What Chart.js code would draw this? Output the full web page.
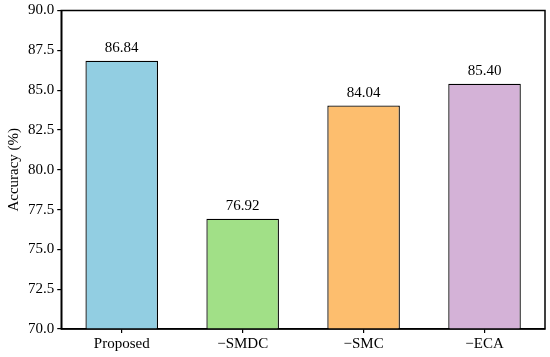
<!DOCTYPE html>
<html>
<head>
<meta charset="utf-8">
<script src="https://cdn.jsdelivr.net/npm/chart.js@4/dist/chart.umd.min.js"></script>
<style>
  html, body { margin: 0; padding: 0; background: #fff; }
  #wrap { width: 550px; height: 357px; }
</style>
</head>
<body>
<div id="wrap"><canvas id="accChart" width="550" height="357"></canvas></div>
<script>
const labels = ["Proposed", "\u2212SMDC", "\u2212SMC", "\u2212ECA"];
const accuracy = [86.84, 76.92, 84.04, 85.40];
const barColors = ["#92CEE2", "#A1E087", "#FDBE6E", "#D4B2D7"];
const yTicks = [70.0, 72.5, 75.0, 77.5, 80.0, 82.5, 85.0, 87.5, 90.0];

const FONT = "'Liberation Serif', 'Times New Roman', serif";
const FS = 15;

// valores encima de cada barra
const valueLabels = {
  id: "valueLabels",
  afterDatasetsDraw(chart) {
    const ctx = chart.ctx;
    const meta = chart.getDatasetMeta(0);
    ctx.save();
    ctx.font = FS + "px " + FONT;
    ctx.fillStyle = "#000";
    ctx.textAlign = "center";
    ctx.textBaseline = "bottom";
    meta.data.forEach((bar, i) => {
      ctx.fillText(accuracy[i].toFixed(2), bar.x, bar.y - 5);
    });
    ctx.restore();
  }
};

// marco completo del área de la gráfica
const frame = {
  id: "frame",
  afterDraw(chart) {
    const a = chart.chartArea;
    const ctx = chart.ctx;
    ctx.save();
    ctx.strokeStyle = "#000";
    ctx.lineWidth = 1.5;
    ctx.strokeRect(a.left, a.top, a.right - a.left, a.bottom - a.top);
    ctx.restore();
  }
};

new Chart(document.getElementById("accChart"), {
  type: "bar",
  data: {
    labels: labels,
    datasets: [{
      data: accuracy,
      backgroundColor: barColors,
      borderColor: "#000",
      borderWidth: 1.3,
      categoryPercentage: 0.6,
      barPercentage: 1.0
    }]
  },
  options: {
    responsive: false,
    animation: false,
    layout: { padding: { left: 5, right: 5, top: 2, bottom: 2 } },
    plugins: {
      legend: { display: false },
      tooltip: { enabled: false }
    },
    scales: {
      x: {
        grid: { display: true, drawOnChartArea: false, drawTicks: true, tickLength: 4, offset: false, color: "#000", lineWidth: 1.2 },
        border: { display: true, color: "#000", width: 1.5 },
        ticks: { color: "#000", font: { family: FONT, size: FS }, padding: 2 }
      },
      y: {
        min: 70,
        max: 90,
        afterBuildTicks: axis => { axis.ticks = yTicks.map(v => ({ value: v })); },
        grid: { display: true, drawOnChartArea: false, drawTicks: true, tickLength: 4, color: "#000", lineWidth: 1.2 },
        border: { display: true, color: "#000", width: 1.5 },
        ticks: {
          color: "#000",
          font: { family: FONT, size: FS, lineHeight: 1.0 },
          padding: 3,
          callback: v => Number(v).toFixed(1)
        },
        title: {
          display: true,
          text: "Accuracy (%)",
          color: "#000",
          font: { family: FONT, size: FS },
          padding: { top: 0, bottom: 2 }
        }
      }
    }
  },
  plugins: [valueLabels, frame]
});
</script>
</body>
</html>
